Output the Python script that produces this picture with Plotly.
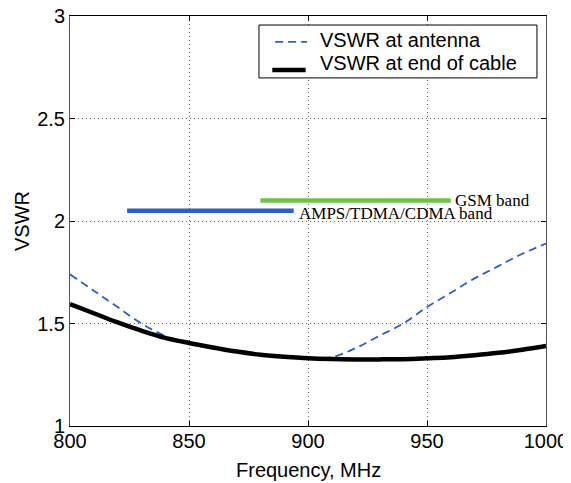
import plotly.graph_objects as go

freq = [800, 810, 820, 830, 840, 850, 860, 870, 880, 890, 900, 910, 920, 930, 940, 950, 960, 970, 980, 990, 1000]
vswr_antenna = [1.74, 1.66, 1.58, 1.50, 1.44, 1.405, 1.383, 1.363, 1.348, 1.338, 1.333, 1.336, 1.38, 1.44, 1.50, 1.58, 1.65, 1.72, 1.78, 1.84, 1.89]
vswr_cable = [1.595, 1.55, 1.505, 1.465, 1.43, 1.405, 1.383, 1.363, 1.348, 1.338, 1.331, 1.327, 1.325, 1.325, 1.326, 1.33, 1.335, 1.345, 1.357, 1.372, 1.39]

gsm_band = [880, 960]
gsm_level = 2.1
amps_band = [824, 894]
amps_level = 2.05

x_ticks = [800, 850, 900, 950, 1000]
y_ticks = [1, 1.5, 2, 2.5, 3]
y_tick_text = ["1", "1.5", "2", "2.5", "3"]

legend_labels = ["VSWR at antenna", "VSWR at end of cable"]

BLUE = "#2e5fc4"
GREEN = "#6cc24a"

fig = go.Figure()
fig.add_trace(go.Scatter(x=freq, y=vswr_antenna, mode="lines", name=legend_labels[0],
                         line=dict(color=BLUE, width=1.8, dash="8px,5px", shape="spline")))
fig.add_trace(go.Scatter(x=freq, y=vswr_cable, mode="lines", name=legend_labels[1],
                         line=dict(color="black", width=4.5, shape="spline")))
fig.add_trace(go.Scatter(x=gsm_band, y=[gsm_level] * 2, mode="lines",
                         line=dict(color=GREEN, width=4.5)))
fig.add_trace(go.Scatter(x=amps_band, y=[amps_level] * 2, mode="lines",
                         line=dict(color=BLUE, width=4.5)))

fig.add_annotation(x=gsm_band[1], y=gsm_level, text="GSM band", showarrow=False,
                   xanchor="left", yanchor="middle", xshift=2,
                   font=dict(family="Liberation Serif", size=17, color="black"))
fig.add_annotation(x=amps_band[1], y=amps_level, text="AMPS/TDMA/CDMA band", showarrow=False,
                   xanchor="left", yanchor="middle", xshift=3, yshift=-3,
                   font=dict(family="Liberation Serif", size=17, color="black"))

axis_common = dict(showline=True, linewidth=1, mirror="allticks",
                   ticks="inside", ticklen=5, tickcolor="black",
                   showgrid=True, gridcolor="#666", griddash="1px,3px", gridwidth=1,
                   zeroline=False, automargin=False, ticklabeloverflow="allow",
                   tickfont=dict(family="Arial", size=20, color="black"))

fig.update_xaxes(range=[800, 1000], tickvals=x_ticks, ticklabelstandoff=-3, linecolor="black", **axis_common)
fig.update_yaxes(range=[1, 3], tickvals=y_ticks, ticktext=y_tick_text, ticklabelstandoff=0,
                 linecolor="#555", **axis_common)

# axis titles
fig.add_annotation(xref="paper", yref="paper", x=0.5, y=0, yshift=-44, text="Frequency, MHz",
                   showarrow=False, xanchor="center", yanchor="middle",
                   font=dict(family="Arial", size=20, color="black"))
fig.add_annotation(xref="paper", yref="paper", x=0, y=0.5, xshift=-48, text="VSWR", textangle=-90,
                   showarrow=False, xanchor="center", yanchor="middle",
                   font=dict(family="Arial", size=20, color="black"))

# legend box drawn in MATLAB style
fig.add_shape(type="rect", xref="paper", yref="paper", x0=0.397, x1=0.981, y0=0.849, y1=0.978,
              line=dict(color="black", width=1), fillcolor="white", layer="above")
fig.add_shape(type="line", xref="paper", yref="paper", x0=0.431, x1=0.498, y0=0.937, y1=0.937,
              line=dict(color=BLUE, width=1.8, dash="8px,5px"), layer="above")
fig.add_shape(type="line", xref="paper", yref="paper", x0=0.425, x1=0.495, y0=0.868, y1=0.868,
              line=dict(color="black", width=4.5), layer="above")
fig.add_annotation(xref="paper", yref="paper", x=0.521, y=0.941, text=legend_labels[0],
                   showarrow=False, xanchor="left", yanchor="middle",
                   font=dict(family="Arial", size=20, color="black"))
fig.add_annotation(xref="paper", yref="paper", x=0.521, y=0.885, text=legend_labels[1],
                   showarrow=False, xanchor="left", yanchor="middle",
                   font=dict(family="Arial", size=20, color="black"))

fig.update_layout(
    width=563, height=475,
    margin=dict(l=62, r=25, t=8, b=57),
    paper_bgcolor="white", plot_bgcolor="white",
    showlegend=False,
)

fig.write_html("out.html")
